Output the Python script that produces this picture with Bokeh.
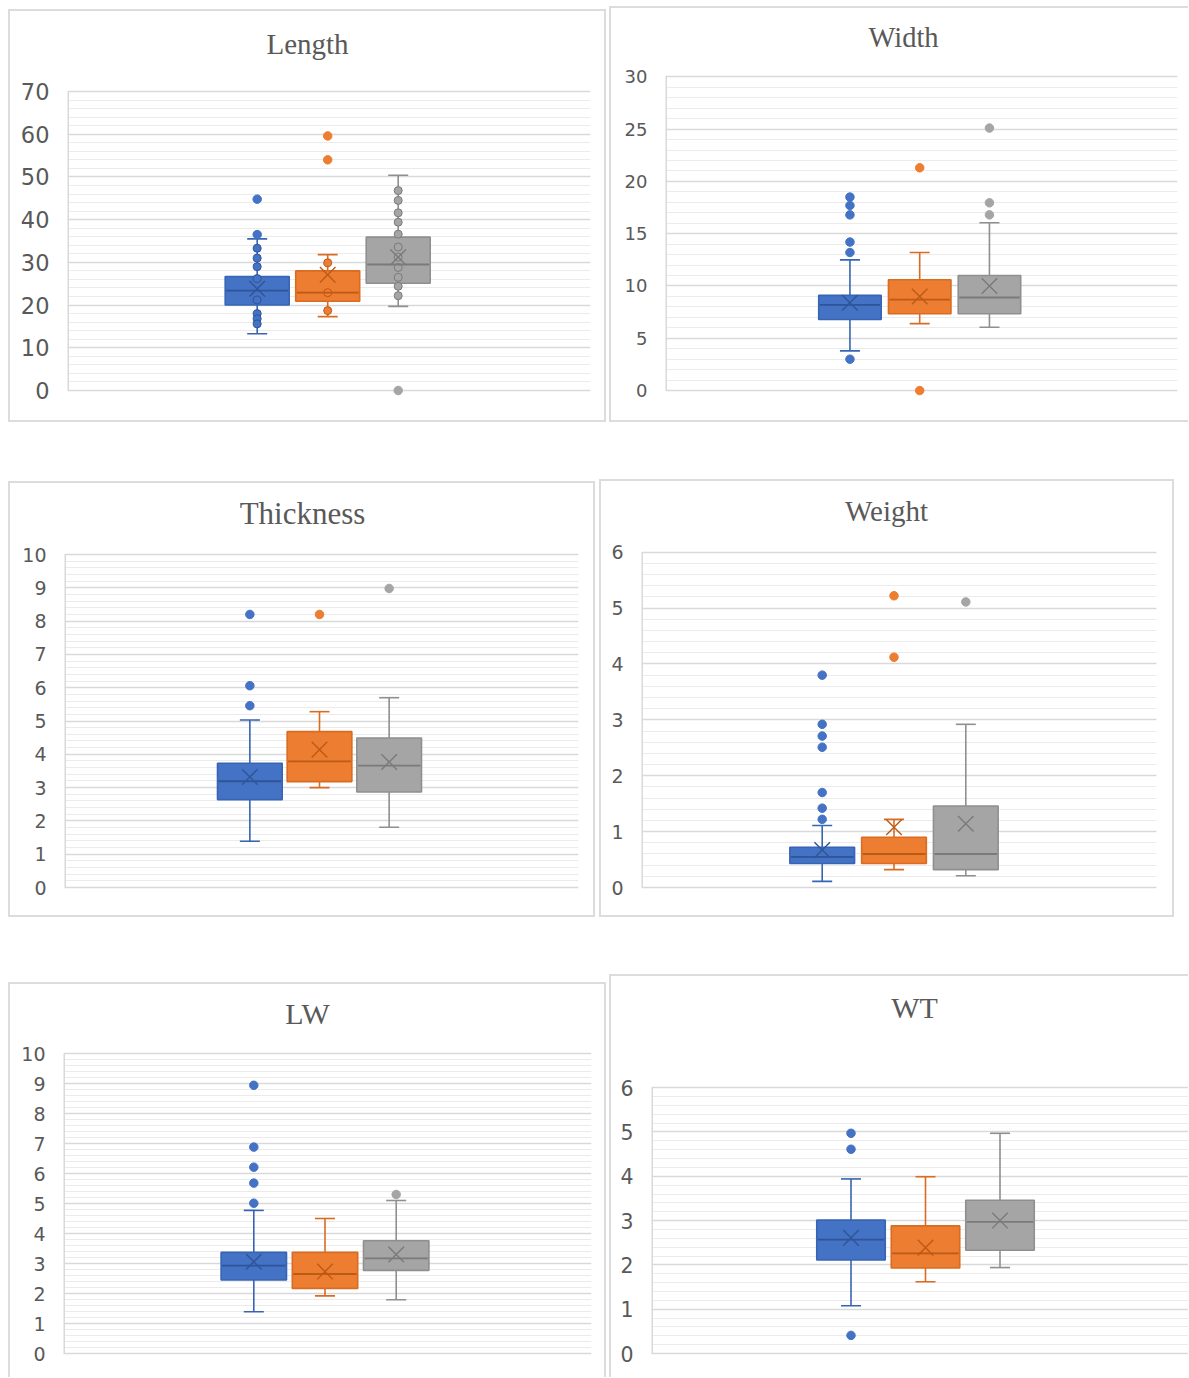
import numpy as np
from bokeh.plotting import figure
from bokeh.layouts import row, column
from bokeh.models import FixedTicker, Label, ColumnDataSource, Range1d
from bokeh.embed import file_html
from bokeh.resources import INLINE

# ---------------- data ----------------
groups = ["Group 1", "Group 2", "Group 3"]
fills = ["#4472C4", "#ED7D31", "#A5A5A5"]
lines = ["#3764B4", "#D96C22", "#8F8F8F"]
marks = ["#2F5597", "#BC5A17", "#7A7A7A"]

length_ticks = [0, 10, 20, 30, 40, 50, 60, 70]
length = {
    "low":  [13.3, 17.3, 19.7],
    "q1":   [20.0, 20.9, 25.1],
    "med":  [23.4, 22.9, 29.5],
    "q3":   [26.7, 28.0, 35.9],
    "high": [35.5, 31.8, 50.4],
    "mean": [23.8, 27.1, 31.2],
    "out":  [[44.8, 36.5], [59.6, 54.0], [0.0]],
    "inner": [[33.3, 31.0, 29.0, 26.2, 21.2, 18.0, 16.8, 15.6],
              [29.9, 22.9, 18.7],
              [46.8, 44.5, 41.6, 39.4, 36.6, 33.6, 31.2, 28.8, 26.5, 24.4, 22.2]],
}

width_ticks = [0, 5, 10, 15, 20, 25, 30]
width = {
    "low":  [3.8, 6.4, 6.05],
    "q1":   [6.8, 7.35, 7.35],
    "med":  [8.2, 8.7, 8.9],
    "q3":   [9.1, 10.6, 11.0],
    "high": [12.5, 13.2, 16.05],
    "mean": [8.4, 9.0, 10.0],
    "out":  [[3.0, 13.2, 14.2, 16.8, 17.7, 18.5], [21.3, 0.0], [25.1, 17.95, 16.8]],
    "inner": [[], [], []],
}

thickness_ticks = [0, 1, 2, 3, 4, 5, 6, 7, 8, 9, 10]
thickness = {
    "low":  [1.39, 3.0, 1.81],
    "q1":   [2.64, 3.18, 2.87],
    "med":  [3.19, 3.79, 3.66],
    "q3":   [3.73, 4.68, 4.49],
    "high": [5.03, 5.28, 5.70],
    "mean": [3.32, 4.14, 3.77],
    "out":  [[8.2, 6.06, 5.46], [8.2], [8.98]],
    "inner": [[], [], []],
}

weight_ticks = [0, 1, 2, 3, 4, 5, 6]
weight = {
    "low":  [0.11, 0.32, 0.21],
    "q1":   [0.43, 0.43, 0.32],
    "med":  [0.55, 0.60, 0.60],
    "q3":   [0.72, 0.90, 1.46],
    "high": [1.11, 1.22, 2.92],
    "mean": [0.67, 1.08, 1.14],
    "out":  [[3.8, 2.92, 2.71, 2.51, 1.70, 1.42, 1.22], [5.22, 4.12], [5.11]],
    "inner": [[], [], []],
}

lw_ticks = [0, 1, 2, 3, 4, 5, 6, 7, 8, 9, 10]
lw = {
    "low":  [1.39, 1.92, 1.79],
    "q1":   [2.45, 2.17, 2.77],
    "med":  [2.93, 2.65, 3.17],
    "q3":   [3.37, 3.37, 3.76],
    "high": [4.77, 4.50, 5.10],
    "mean": [3.06, 2.73, 3.30],
    "out":  [[8.94, 6.88, 6.21, 5.68, 5.01], [], [5.30]],
    "inner": [[], [], []],
}

wt_ticks = [0, 1, 2, 3, 4, 5, 6]
wt = {
    "low":  [1.08, 1.62, 1.94],
    "q1":   [2.11, 1.93, 2.33],
    "med":  [2.57, 2.26, 2.97],
    "q3":   [3.01, 2.88, 3.46],
    "high": [3.94, 3.99, 4.97],
    "mean": [2.61, 2.39, 3.00],
    "out":  [[4.97, 4.61, 0.41], [], []],
    "inner": [[], [], []],
}

# ---------------- layout (page pixels) ----------------
def geom(x0, y0, w, h, L, R, T, B, mid, s, bw, tcx, tcy, tfs, lfs, borders, margin):
    return dict(x0=x0, y0=y0, w=w, h=h, L=L, R=R, T=T, B=B, mid=mid, s=s, bw=bw,
                tcx=tcx, tcy=tcy, tfs=tfs, lfs=lfs, borders=borders, margin=margin)

G1 = geom(8, 9, 598, 413, 67, 590, 91, 390, 327.2, 70.5, 64, 307, 43, 29, 22.5, "ltrb", (1, 0, 0, 0))
G2 = geom(609, 6, 579, 416, 665, 1177, 77, 394, 919.2, 69.75, 62.5, 903, 37, 28.5, 18, "ltb", (-2, 0, 0, 3))
G3 = geom(8, 481, 587, 436, 64, 578, 554, 887, 319, 69.65, 64.7, 302, 513, 31, 19, "ltrb", (59, 0, 0, 0))
G4 = geom(599, 479, 575, 438, 641, 1156, 552, 889, 893.5, 71.8, 64.7, 886, 511, 29, 19, "ltrb", (57, 0, 0, 4))
G5 = geom(8, 982, 598, 395, 63, 591, 1053, 1353, 324.5, 71.2, 65.4, 307, 1013, 30, 19, "ltr", (65, 0, 0, 0))
G6 = geom(609, 974, 579, 403, 651, 1188, 1088, 1356, 925, 74.5, 68.5, 914, 1007, 30, 20.5, "lt", (57, 0, 0, 3))

BORDER = "#DCDCDC"
INSET = 4      # frame top, just inside the chart border
BELOW = 7      # room below the zero line so markers at 0 are not cut


def make_panel(title, d, ticks, minor_step, g):
    top = g["y0"] + INSET
    bottom = g["B"] + BELOW
    ml = g["L"] - g["x0"]
    mr = g["x0"] + g["w"] - g["R"]
    mt = INSET
    mb = g["y0"] + g["h"] - bottom
    s = g["s"]
    ymax = ticks[-1]
    per_px = (ymax - ticks[0]) / (g["B"] - g["T"])
    y_end = ticks[0] + per_px * (g["B"] - top)
    y_start = ticks[0] - per_px * BELOW
    x_start = (g["L"] - g["mid"]) / s
    x_end = (g["R"] - g["mid"]) / s
    p = figure(width=g["w"], height=g["h"],
               x_range=Range1d(x_start, x_end), y_range=Range1d(y_start, y_end),
               x_axis_location=None, output_backend="svg", toolbar_location=None,
               min_border_left=ml, min_border_right=mr, min_border_top=mt, min_border_bottom=mb)
    p.border_fill_color = None
    p.background_fill_color = None
    p.outline_line_color = None

    minor = [float(v) for v in np.arange(ticks[0], ticks[-1] + 1e-9, minor_step)]
    ticker = FixedTicker(ticks=ticks, minor_ticks=minor)
    p.yaxis.ticker = ticker
    p.ygrid.ticker = ticker
    p.yaxis.major_label_text_font = "DejaVu Sans"
    p.yaxis.major_label_text_font_size = f"{g['lfs']}px"
    p.yaxis.major_label_text_color = "#595959"
    p.yaxis.major_tick_line_color = None
    p.yaxis.minor_tick_line_color = None
    p.yaxis.major_tick_out = 0
    p.yaxis.major_tick_in = 0
    p.yaxis.major_label_standoff = 14
    p.yaxis.axis_line_color = None
    p.ygrid.grid_line_color = "#D9D9D9"
    p.ygrid.grid_line_width = 1.5
    p.ygrid.minor_grid_line_color = "#EBEBEB"
    p.ygrid.minor_grid_line_width = 1
    p.xgrid.grid_line_color = None

    # vertical axis line of the plot area (0 .. top tick)
    p.segment(x0=[x_start], x1=[x_start], y0=[ticks[0]], y1=[ymax], line_color="#D9D9D9", line_width=3)

    xs = [i - 1 for i in range(len(groups))]
    src = ColumnDataSource(dict(x=xs, low=d["low"], q1=d["q1"], med=d["med"], q3=d["q3"],
                                high=d["high"], mean=d["mean"], fill=fills, line=lines, mark=marks))
    bw = g["bw"] / s
    p.segment(x0="x", x1="x", y0="q3", y1="high", line_color="line", line_width=1.6, source=src)
    p.segment(x0="x", x1="x", y0="q1", y1="low", line_color="line", line_width=1.6, source=src)
    p.scatter(x="x", y="high", marker="dash", size=20, line_color="line", line_width=1.6, source=src)
    p.scatter(x="x", y="low", marker="dash", size=20, line_color="line", line_width=1.6, source=src)
    p.vbar(x="x", width=bw, top="q3", bottom="q1", fill_color="fill", line_color="line",
           line_width=1.6, source=src)

    ix, iy, ic, il = [], [], [], []
    for i, vals in enumerate(d["inner"]):
        for v in vals:
            ix.append(xs[i]); iy.append(v); ic.append(fills[i]); il.append(marks[i])
    if ix:
        p.scatter(x=ix, y=iy, marker="circle", size=8, fill_color=ic, line_color=il, line_width=1)

    p.scatter(x="x", y="med", marker="dash", size=g["bw"] - 2, line_color="mark", line_width=1.8, source=src)
    p.scatter(x="x", y="mean", marker="x", size=22, line_color="mark", line_width=1.4, source=src)

    ox, oy, oc = [], [], []
    for i, vals in enumerate(d["out"]):
        for v in vals:
            ox.append(xs[i]); oy.append(v); oc.append(fills[i])
    p.scatter(x=ox, y=oy, marker="circle", size=8.5, fill_color=oc, line_color=oc)

    # chart title, placed inside the (extended) frame
    tx = (g["tcx"] - g["mid"]) / s
    ty = ticks[0] + per_px * (g["B"] - g["tcy"])
    p.add_layout(Label(x=tx, y=ty, text=title, text_font="Liberation Serif",
                       text_font_size=f"{g['tfs']}px", text_color="#595959",
                       text_align="center", text_baseline="middle"))

    shadows = []
    if "l" in g["borders"]:
        shadows.append(f"inset 2px 0 0 {BORDER}")
    if "r" in g["borders"]:
        shadows.append(f"inset -2px 0 0 {BORDER}")
    if "t" in g["borders"]:
        shadows.append(f"inset 0 2px 0 {BORDER}")
    if "b" in g["borders"]:
        shadows.append(f"inset 0 -2px 0 {BORDER}")
    p.styles = {"box-shadow": ", ".join(shadows)}
    p.margin = g["margin"]
    return p


p1 = make_panel("Length", length, length_ticks, 2, G1)
p2 = make_panel("Width", width, width_ticks, 1, G2)
p3 = make_panel("Thickness", thickness, thickness_ticks, 0.2, G3)
p4 = make_panel("Weight", weight, weight_ticks, 0.2, G4)
p5 = make_panel("LW", lw, lw_ticks, 0.2, G5)
p6 = make_panel("WT", wt, wt_ticks, 0.2, G6)

layout = column(row(p1, p2), row(p3, p4), row(p5, p6))
layout.margin = (8, 0, 0, 8)

with open("out.html", "w") as f:
    f.write(file_html(layout, INLINE))
